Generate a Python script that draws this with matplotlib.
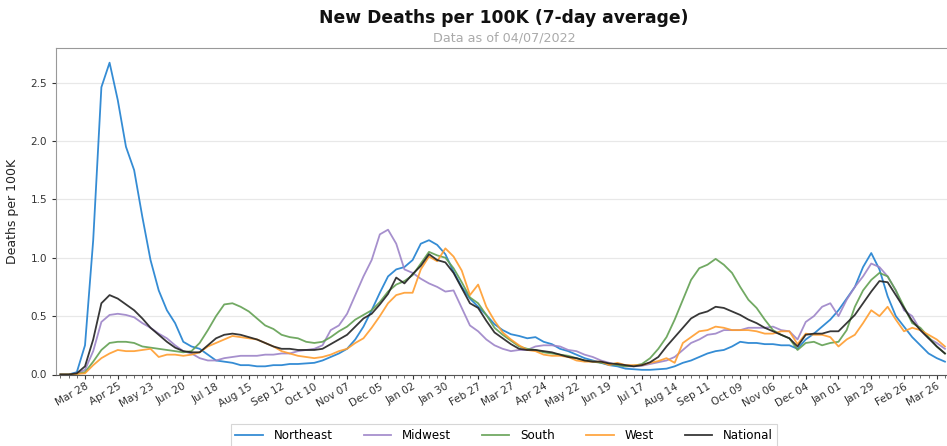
import matplotlib
matplotlib.use("Agg")
import matplotlib.pyplot as plt
import matplotlib.dates as mdates
from matplotlib.ticker import FixedLocator
import pandas as pd
import numpy as np

# ---- data (weekly samples) ----
dates = pd.date_range("2020-03-07", periods=109, freq="7D")

national = [0.00, 0.00, 0.01, 0.07, 0.30, 0.61, 0.68, 0.65, 0.60, 0.55,
            0.48, 0.40, 0.34, 0.28, 0.23, 0.20, 0.19, 0.19, 0.25, 0.31,
            0.34, 0.35, 0.34, 0.32, 0.30, 0.27, 0.24, 0.22, 0.22, 0.21,
            0.21, 0.21, 0.22, 0.26, 0.30, 0.34, 0.41, 0.48, 0.52, 0.60,
            0.69, 0.83, 0.78, 0.86, 0.93, 1.03, 0.98, 0.96, 0.87, 0.74,
            0.61, 0.57, 0.46, 0.36, 0.31, 0.26, 0.22, 0.21, 0.21, 0.20,
            0.19, 0.17, 0.15, 0.14, 0.12, 0.11, 0.11, 0.095, 0.09, 0.08,
            0.07, 0.08, 0.105, 0.15, 0.24, 0.32, 0.40, 0.48, 0.52, 0.54,
            0.58, 0.57, 0.54, 0.51, 0.47, 0.44, 0.40, 0.37, 0.34, 0.31,
            0.24, 0.34, 0.35, 0.35, 0.37, 0.37, 0.44, 0.51, 0.61, 0.71,
            0.80, 0.79, 0.68, 0.57, 0.46, 0.38, 0.31, 0.24, 0.18]

northeast = [0.00, 0.00, 0.02, 0.25, 1.15, 2.46, 2.67, 2.35, 1.95, 1.75,
             1.35, 0.98, 0.72, 0.55, 0.44, 0.28, 0.24, 0.22, 0.17, 0.12,
             0.11, 0.10, 0.08, 0.08, 0.07, 0.07, 0.08, 0.08, 0.09, 0.09,
             0.095, 0.10, 0.12, 0.15, 0.18, 0.22, 0.30, 0.41, 0.55, 0.70,
             0.84, 0.90, 0.92, 0.98, 1.12, 1.15, 1.11, 1.03, 0.88, 0.75,
             0.65, 0.58, 0.51, 0.43, 0.38, 0.345, 0.33, 0.31, 0.32, 0.28,
             0.26, 0.22, 0.20, 0.17, 0.14, 0.12, 0.10, 0.08, 0.07, 0.05,
             0.045, 0.04, 0.04, 0.045, 0.05, 0.07, 0.10, 0.12, 0.15, 0.18,
             0.20, 0.21, 0.24, 0.28, 0.27, 0.27, 0.26, 0.26, 0.25, 0.25,
             0.22, 0.30, 0.35, 0.41, 0.47, 0.55, 0.65, 0.75, 0.92, 1.04,
             0.90, 0.67, 0.50, 0.41, 0.32, 0.25, 0.18, 0.14, 0.11]

midwest = [0.00, 0.00, 0.01, 0.04, 0.20, 0.45, 0.51, 0.52, 0.51, 0.49,
           0.44, 0.40, 0.35, 0.31, 0.25, 0.20, 0.18, 0.14, 0.12, 0.12,
           0.14, 0.15, 0.16, 0.16, 0.16, 0.17, 0.17, 0.18, 0.18, 0.20,
           0.21, 0.22, 0.25, 0.38, 0.42, 0.52, 0.68, 0.84, 0.98, 1.20,
           1.24, 1.12, 0.90, 0.87, 0.82, 0.78, 0.75, 0.71, 0.72, 0.57,
           0.42, 0.37, 0.30, 0.25, 0.22, 0.20, 0.21, 0.21, 0.24, 0.25,
           0.25, 0.24, 0.21, 0.20, 0.17, 0.15, 0.12, 0.10, 0.08, 0.07,
           0.07, 0.075, 0.09, 0.105, 0.12, 0.15, 0.21, 0.27, 0.30, 0.34,
           0.35, 0.38, 0.38, 0.38, 0.40, 0.40, 0.40, 0.41, 0.38, 0.37,
           0.30, 0.45, 0.50, 0.58, 0.61, 0.50, 0.64, 0.75, 0.84, 0.95,
           0.92, 0.84, 0.72, 0.55, 0.50, 0.38, 0.31, 0.27, 0.22]

south = [0.00, 0.00, 0.005, 0.02, 0.11, 0.21, 0.27, 0.28, 0.28, 0.27,
         0.24, 0.23, 0.22, 0.21, 0.20, 0.19, 0.20, 0.27, 0.38, 0.50,
         0.60, 0.61, 0.58, 0.54, 0.48, 0.42, 0.39, 0.34, 0.32, 0.31,
         0.28, 0.27, 0.28, 0.32, 0.37, 0.41, 0.47, 0.51, 0.55, 0.62,
         0.71, 0.77, 0.80, 0.85, 0.95, 1.05, 1.02, 1.00, 0.91, 0.79,
         0.66, 0.61, 0.51, 0.40, 0.34, 0.29, 0.24, 0.22, 0.21, 0.19,
         0.18, 0.17, 0.16, 0.14, 0.12, 0.11, 0.10, 0.09, 0.08, 0.07,
         0.075, 0.09, 0.14, 0.22, 0.32, 0.47, 0.64, 0.81, 0.91, 0.94,
         0.99, 0.94, 0.87, 0.75, 0.64, 0.57, 0.47, 0.38, 0.34, 0.31,
         0.21, 0.27, 0.28, 0.25, 0.27, 0.28, 0.38, 0.58, 0.72, 0.81,
         0.87, 0.84, 0.72, 0.58, 0.44, 0.40, 0.32, 0.24, 0.18]

west = [0.00, 0.00, 0.005, 0.01, 0.08, 0.14, 0.18, 0.21, 0.20, 0.20,
        0.21, 0.22, 0.15, 0.17, 0.17, 0.16, 0.17, 0.19, 0.24, 0.27,
        0.30, 0.33, 0.32, 0.31, 0.30, 0.27, 0.24, 0.20, 0.18, 0.16,
        0.15, 0.14, 0.15, 0.17, 0.20, 0.22, 0.27, 0.31, 0.40, 0.50,
        0.61, 0.68, 0.70, 0.70, 0.90, 1.01, 0.97, 1.08, 1.01, 0.89,
        0.68, 0.77, 0.58, 0.46, 0.36, 0.30, 0.25, 0.21, 0.20, 0.17,
        0.16, 0.16, 0.15, 0.12, 0.11, 0.11, 0.11, 0.08, 0.10, 0.08,
        0.08, 0.08, 0.10, 0.115, 0.14, 0.10, 0.27, 0.32, 0.37, 0.38,
        0.41, 0.40, 0.38, 0.38, 0.38, 0.37, 0.35, 0.35, 0.37, 0.37,
        0.26, 0.35, 0.34, 0.34, 0.32, 0.24, 0.30, 0.34, 0.44, 0.55,
        0.50, 0.58, 0.47, 0.37, 0.40, 0.38, 0.34, 0.30, 0.24]

series_names = ["Northeast", "Midwest", "South", "West", "National"]
series_values = [northeast, midwest, south, west, national]
series_colors = ["#1f80d0", "#9d84c8", "#62a052", "#ff9d2e", "#222222"]

title = "New Deaths per 100K (7-day average)"
subtitle = "Data as of 04/07/2022"
ylabel = "Deaths per 100K"
yticks = [0.0, 0.5, 1.0, 1.5, 2.0, 2.5]

# ---- figure ----
W, H = 947, 446
fig = plt.figure(figsize=(W / 100, H / 100), dpi=100)
ax_left, ax_right, ax_top, ax_bottom = 56, 947, 47.5, 374.5
ax = fig.add_axes([ax_left / W, 1 - ax_bottom / H,
                   (ax_right - ax_left) / W, (ax_bottom - ax_top) / H])

for name, vals, col in zip(series_names, series_values, series_colors):
    ax.plot(dates, vals, color=col, lw=1.3, alpha=0.9, label=name)

ax.set_xlim(pd.Timestamp("2020-03-03 05:00"), pd.Timestamp("2022-04-03 18:00"))
ax.set_ylim(0, 2.8)

major = pd.date_range("2020-03-28", periods=27, freq="28D")
minor = pd.date_range("2020-03-07", periods=110, freq="7D")
ax.xaxis.set_major_locator(FixedLocator(mdates.date2num(major)))
ax.xaxis.set_minor_locator(FixedLocator(mdates.date2num(minor)))
ax.xaxis.set_major_formatter(mdates.DateFormatter("%b %d"))
ax.tick_params(axis="x", which="major", labelsize=7.5, length=3, width=0.8,
               colors="#333333", pad=2, labelrotation=30)
for lbl in ax.get_xticklabels():
    lbl.set_ha("right")
    lbl.set_rotation_mode("anchor")
ax.tick_params(axis="x", which="minor", length=2, width=0.6, colors="#555555")
ax.set_yticks(yticks)
ax.set_yticklabels([f"{v:.1f}" for v in yticks])
ax.tick_params(axis="y", labelsize=7.5, length=3, colors="#333333")

ax.yaxis.grid(True, color="#e8e8e8", lw=0.9)
ax.set_axisbelow(True)
ax.spines["right"].set_visible(False)
for s in ["top", "left"]:
    ax.spines[s].set_color("#999999")
ax.spines["bottom"].set_color("#555555")

ax.set_ylabel(ylabel, fontsize=9, color="#222222", labelpad=8)

fig.text(504 / W, 1 - 18 / H, title, ha="center", va="center",
         fontsize=12.3, fontweight="bold", color="#111111")
fig.text(504 / W, 1 - 38 / H, subtitle, ha="center", va="center",
         fontsize=9.2, color="#aaaaaa")

leg = fig.legend(loc="upper center", bbox_to_anchor=(504 / W, 1 - 424 / H),
                 ncol=5, fontsize=8.6, frameon=True, handlelength=2.3,
                 columnspacing=2.6, handletextpad=0.9, borderaxespad=0,
                 fancybox=False)
leg.get_frame().set_edgecolor("#cccccc")
leg.get_frame().set_linewidth(0.8)

fig.savefig("out.png", dpi=100)
